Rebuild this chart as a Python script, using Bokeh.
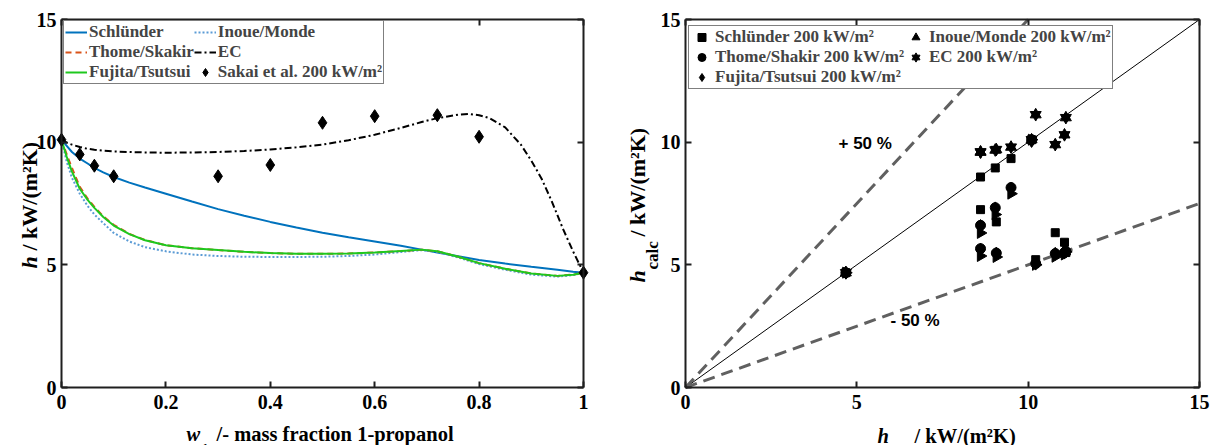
import numpy as np
from bokeh.plotting import figure
from bokeh.layouts import row
from bokeh.models import Range1d, Label, Legend, LegendItem, FixedTicker, LinearAxis
from bokeh.embed import file_html
from bokeh.resources import INLINE

# ---------------- data ----------------
w_curve = [0, 0.01, 0.02, 0.035, 0.05, 0.063, 0.08, 0.1, 0.13, 0.16, 0.2, 0.25, 0.3,
           0.35, 0.4, 0.45, 0.5, 0.55, 0.6, 0.65, 0.69, 0.72, 0.76, 0.8, 0.85, 0.9,
           0.95, 0.98, 1.0]
h_schlunder = [10.1, 9.85, 9.6, 9.33, 9.13, 8.95, 8.77, 8.58, 8.35, 8.15, 7.9, 7.58, 7.27,
               7.0, 6.75, 6.52, 6.31, 6.12, 5.95, 5.78, 5.62, 5.5, 5.35, 5.2, 5.05, 4.92,
               4.8, 4.72, 4.68]
h_inoue = [10.1, 9.2, 8.55, 7.9, 7.4, 7.05, 6.7, 6.3, 5.95, 5.72, 5.55, 5.42, 5.36,
           5.33, 5.32, 5.32, 5.33, 5.36, 5.42, 5.52, 5.6, 5.53, 5.3, 5.03, 4.8, 4.6,
           4.52, 4.58, 4.68]
h_thome = [10.1, 9.5, 8.95, 8.18, 7.7, 7.36, 6.98, 6.63, 6.26, 6.01, 5.8, 5.68, 5.6,
           5.53, 5.48, 5.45, 5.45, 5.46, 5.5, 5.56, 5.62, 5.55, 5.33, 5.07, 4.84, 4.65,
           4.55, 4.6, 4.68]
h_fujita = [10.1, 9.4, 8.8, 8.1, 7.65, 7.32, 6.95, 6.6, 6.25, 6.0, 5.8, 5.68, 5.6,
            5.53, 5.48, 5.45, 5.45, 5.46, 5.5, 5.56, 5.62, 5.55, 5.33, 5.07, 4.84, 4.65,
            4.55, 4.6, 4.68]
w_ec = [0, 0.01, 0.02, 0.035, 0.05, 0.063, 0.08, 0.1, 0.13, 0.16, 0.2, 0.25, 0.3, 0.35,
        0.4, 0.45, 0.5, 0.55, 0.6, 0.65, 0.69, 0.72, 0.76, 0.78, 0.8, 0.82, 0.85, 0.88,
        0.9, 0.92, 0.94, 0.96, 0.98, 1.0]
h_ec = [10.1, 9.98, 9.9, 9.8, 9.73, 9.69, 9.65, 9.62, 9.6, 9.58, 9.57, 9.58, 9.6, 9.64,
        9.7, 9.79, 9.9, 10.08, 10.3, 10.58, 10.82, 10.98, 11.12, 11.15, 11.1, 10.98,
        10.6, 9.9, 9.25, 8.5, 7.55, 6.5, 5.55, 4.68]

# experimental data (Sakai et al., 200 kW/m²)
w_exp = [0, 0.035, 0.063, 0.1, 0.3, 0.4, 0.5, 0.6, 0.72, 0.8, 1.0]
h_exp = [10.1, 9.5, 9.04, 8.61, 8.61, 9.07, 10.79, 11.06, 11.1, 10.22, 4.68]

# calculated values at the experimental points (right panel)
calc_schlunder = [10.1, 9.33, 8.95, 8.58, 7.25, 6.75, 6.31, 5.92, 5.5, 5.21, 4.68]
calc_thome = [10.1, 8.15, 7.33, 6.61, 5.66, 5.48, 5.46, 5.5, 5.55, 5.05, 4.68]
calc_fujita = [10.05, 8.1, 7.3, 6.58, 5.62, 5.46, 5.45, 5.5, 5.55, 5.05, 4.68]
calc_inoue = [10.1, 7.9, 7.05, 6.3, 5.36, 5.32, 5.33, 5.42, 5.53, 5.0, 4.68]
calc_ec = [10.1, 9.8, 9.68, 9.6, 9.6, 9.7, 9.9, 10.3, 11.0, 11.12, 4.68]

# parity line and ±50 % deviation lines
band_gradients = [1.0, 1.5, 0.5]

x_ticks_left = [0, 0.2, 0.4, 0.6, 0.8, 1.0]
y_ticks = [0, 5, 10, 15]
x_ticks_right = [0, 5, 10, 15]

# ---------------- styling ----------------
SERIF = "Liberation Serif"
SANS = "Liberation Sans"
AX = "#1f1f1f"
C_SCHL = "#0072BD"
C_INOUE = "#5B9BD5"
C_THOME = "#D95319"
C_FUJ = "#1EC81E"
H = 445
TOP, BOT = 19, 387   # pixel rows of the plot box
XL_SIZE = "20.5px"   # horizontal axis-label font
YL_SIZE = "22px"     # vertical axis-label font


def make_fig(W, X0, X1, xlim, ylim):
    """Frame covers the whole canvas; the axis box sits at pixels X0..X1 / TOP..BOT."""
    sx = (X1 - X0) / (xlim[1] - xlim[0])
    sy = (BOT - TOP) / (ylim[1] - ylim[0])
    p = figure(width=W, height=H,
               x_range=Range1d(xlim[0] - X0 / sx, xlim[1] + (W - X1) / sx),
               y_range=Range1d(ylim[0] - (H - BOT) / sy, ylim[1] + TOP / sy),
               output_backend="svg", toolbar_location=None,
               x_axis_location=None, y_axis_location=None, min_border=0)
    p.outline_line_color = None
    p.grid.visible = False
    px = lambda v: xlim[0] + (v - X0) / sx
    py = lambda v: ylim[0] + (BOT - v) / sy
    return p, px, py


def add_axes(p, xt, yt, xlim, ylim):
    specs = [("below", xt, ylim[0], xlim, True), ("above", xt, ylim[1], xlim, False),
             ("left", yt, xlim[0], ylim, True), ("right", yt, xlim[1], ylim, False)]
    for side, ticks, loc, bnds, show in specs:
        ax = LinearAxis(ticker=FixedTicker(ticks=ticks), fixed_location=loc, bounds=bnds)
        ax.axis_line_color = AX
        ax.axis_line_width = 2
        ax.major_tick_line_color = AX
        ax.major_tick_line_width = 2
        ax.major_tick_in = 6
        ax.major_tick_out = 0
        ax.minor_tick_line_color = None
        ax.major_label_text_font = SERIF
        ax.major_label_text_font_style = "bold"
        ax.major_label_text_font_size = "20px"
        ax.major_label_text_color = "black" if show else None
        ax.major_label_standoff = 7 if side == "below" else 5
        p.add_layout(ax, side)
    return p


def lab(p, x, y, text, size=XL_SIZE, style="bold", angle=0.0, font=SERIF,
        align="left", baseline="alphabetic"):
    p.add_layout(Label(x=x, y=y, text=text, text_font=font, text_font_style=style,
                       text_font_size=size, angle=angle, text_align=align,
                       text_baseline=baseline, text_color="black"))


def style_legend(lg, gw, gh):
    lg.label_text_font = SERIF
    lg.label_text_font_style = "bold"
    lg.label_text_font_size = "17px"
    lg.glyph_width = gw
    lg.glyph_height = gh
    lg.label_height = gh
    lg.label_standoff = 2
    lg.spacing = 0
    lg.padding = 1
    lg.margin = 0
    lg.border_line_color = "black"
    lg.border_line_width = 1
    lg.background_fill_alpha = 1.0


# ---------------- left panel ----------------
LXL, LYL = (0, 1), (0, 15)
p1, lx, ly = make_fig(600, 61, 583, LXL, LYL)

r_s = p1.line(w_curve, h_schlunder, line_color=C_SCHL, line_width=2)
r_i = p1.line(w_curve, h_inoue, line_color=C_INOUE, line_width=2, line_dash="2 2")
r_t = p1.line(w_curve, h_thome, line_color=C_THOME, line_width=2, line_dash="6 4")
r_f = p1.line(w_curve, h_fujita, line_color=C_FUJ, line_width=2)
r_e = p1.line(w_ec, h_ec, line_color="black", line_width=2, line_dash="7 3 2 3")
r_x = p1.scatter(w_exp, h_exp, marker="diamond", size=13, fill_color="black",
                 line_color="black")
add_axes(p1, x_ticks_left, y_ticks, LXL, LYL)
p1.below[0].major_label_overrides = {0: "0", 1: "1"}

leg1 = Legend(items=[LegendItem(label="Schlünder", renderers=[r_s]),
                     LegendItem(label="Thome/Skakir", renderers=[r_t]),
                     LegendItem(label="Fujita/Tsutsui", renderers=[r_f]),
                     LegendItem(label="Inoue/Monde", renderers=[r_i]),
                     LegendItem(label="EC", renderers=[r_e]),
                     LegendItem(label="Sakai et al. 200 kW/m²", renderers=[r_x])],
              location=(63, H - 84), nrows=3, orientation="vertical")
style_legend(leg1, 22, 20)
p1.add_layout(leg1)

lab(p1, lx(186), ly(433), "w", style="bold italic")
lab(p1, lx(200), ly(448), "1", size="15px", style="bold italic")
lab(p1, lx(216), ly(433), "/- mass fraction 1-propanol")
lab(p1, lx(29), ly(268), "h", size=YL_SIZE, style="bold italic", angle=np.pi / 2)
lab(p1, lx(29), ly(250), "/ kW/(m²K)", size=YL_SIZE, angle=np.pi / 2)

# ---------------- right panel ----------------
RXL, RYL = (0, 15), (0, 15)
OFF = 600
p2, rx0, ry = make_fig(613, 685 - OFF, 1199 - OFF, RXL, RYL)
rx = lambda v: rx0(v - OFF)

for g in band_gradients:
    x_end = min(RXL[1], RYL[1] / g)
    xs = [RXL[0], x_end]
    ys = [g * v for v in xs]
    if g == 1.0:
        p2.line(xs, ys, line_color="black", line_width=1)
    else:
        p2.line(xs, ys, line_color="#606060", line_width=3, line_dash="12 7")

m_s = p2.scatter(h_exp, calc_schlunder, marker="square", size=8, color="black")
m_i = p2.scatter(h_exp, calc_inoue, marker="triangle", angle=-np.pi / 2, size=11, color="black")
m_t = p2.scatter(h_exp, calc_thome, marker="circle", size=10, color="black")
m_f = p2.scatter(h_exp, calc_fujita, marker="diamond", size=13, color="black")
m_e1 = p2.scatter(h_exp, calc_ec, marker="triangle", size=11, color="black")
m_e2 = p2.scatter(h_exp, calc_ec, marker="inverted_triangle", size=11, color="black")
add_axes(p2, x_ticks_right, y_ticks, RXL, RYL)

leg2 = Legend(items=[LegendItem(label="Schlünder 200 kW/m²", renderers=[m_s]),
                     LegendItem(label="Thome/Shakir 200 kW/m²", renderers=[m_t]),
                     LegendItem(label="Fujita/Tsutsui 200 kW/m²", renderers=[m_f]),
                     LegendItem(label="Inoue/Monde 200 kW/m²", renderers=[m_i]),
                     LegendItem(label="EC 200 kW/m²", renderers=[m_e1, m_e2])],
              location=(688 - OFF, H - 89), nrows=3, orientation="vertical")
style_legend(leg2, 23, 20)
p2.add_layout(leg2)

lab(p2, rx(838), ry(143), "+ 50 %", size="17px", font=SANS, baseline="middle")
lab(p2, rx(890), ry(320), "- 50 %", size="17px", font=SANS, baseline="middle")

lab(p2, rx(877), ry(435), "h", style="bold italic")
lab(p2, rx(889), ry(448), "exp", size="17px")
lab(p2, rx(914), ry(435), "/ kW/(m²K)")
lab(p2, rx(637), ry(282), "h", size=YL_SIZE, style="bold italic", angle=np.pi / 2)
lab(p2, rx(652), ry(269), "calc", size="17px", angle=np.pi / 2)
lab(p2, rx(637), ry(236), "/ kW/(m²K)", size=YL_SIZE, angle=np.pi / 2)

layout = row(p1, p2)
open("out.html", "w").write(file_html(layout, INLINE))
